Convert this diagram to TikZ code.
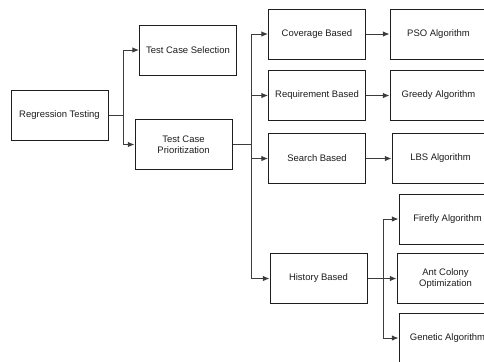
\documentclass[tikz,border=0pt]{standalone}
\usepackage{fontspec}
\setmainfont{Liberation Sans}
\usetikzlibrary{arrows.meta}

\tikzset{every picture/.style={line width=0.75pt}}
\tikzset{
	box/.style={draw={rgb, 255:red, 30; green, 30; blue, 30 }, fill=white, minimum width=97*0.75pt, minimum height=50*0.75pt, align=center, font=\fontsize{7.1}{8.4}\selectfont, text={rgb, 255:red, 30; green, 30; blue, 30 }, inner sep=1pt},
	link/.style={draw={rgb, 255:red, 60; green, 60; blue, 60 }, -{Latex[length=5pt,width=4.2pt]}},
	plain/.style={draw={rgb, 255:red, 60; green, 60; blue, 60 }}}

\begin{document}
\begin{tikzpicture}[x=0.75pt,y=0.75pt,yscale=-1,xscale=1]
	\useasboundingbox (0,0) rectangle (484,361);
	\clip (0,0) rectangle (484,361);

	%Shape: Rectangle [left column]
	\node [box] (rt) at (59.5,115) {Regression Testing};
	\node [box] (tcs) at (188,50) {Test Case Selection};
	\node [box] (tcp) at (183.5,144.5) {Test Case\\Prioritization};

	%Shape: Rectangle [middle column]
	\node [box] (cov) at (317,34) {Coverage Based};
	\node [box] (req) at (317,95.5) {Requirement Based};
	\node [box] (srch) at (317,158.5) {Search Based};
	\node [box] (hist) at (318.5,278.5) {History Based};

	%Shape: Rectangle [right column]
	\node [box] (pso) at (438.5,34) {PSO Algorithm};
	\node [box] (greedy) at (438.5,95.5) {Greedy Algorithm};
	\node [box] (lbs) at (440.5,158.5) {LBS Algorithm};
	\node [box] (firefly) at (447.5,219) {Firefly Algorithm};
	\node [box] (ant) at (445.5,278.5) {Ant Colony\\Optimization};
	\node [box] (genetic) at (447.5,338) {Genetic Algorithm};

	% junctions
	\coordinate (jrt) at (123,115);
	\coordinate (jtcp) at (251,144.5);
	\coordinate (jhist) at (383,278.5);

	% Connectors
	\draw [plain] (rt.east) -- (jrt);
	\draw [link] (jrt) |- (tcs.west);
	\draw [link] (jrt) |- (tcp.west);

	\draw [plain] (tcp.east) -- (jtcp);
	\draw [link] (jtcp) |- (cov.west);
	\draw [link] (jtcp) |- (req.west);
	\draw [link] (jtcp) |- (srch.west);
	\draw [link] (jtcp) |- (hist.west);

	\draw [link] (cov.east) -- (pso.west);
	\draw [link] (req.east) -- (greedy.west);
	\draw [link] (srch.east) -- (lbs.west);

	\draw [plain] (hist.east) -- (jhist);
	\draw [link] (jhist) |- (firefly.west);
	\draw [link] (jhist) |- (ant.west);
	\draw [link] (jhist) |- (genetic.west);

\end{tikzpicture}
\end{document}
